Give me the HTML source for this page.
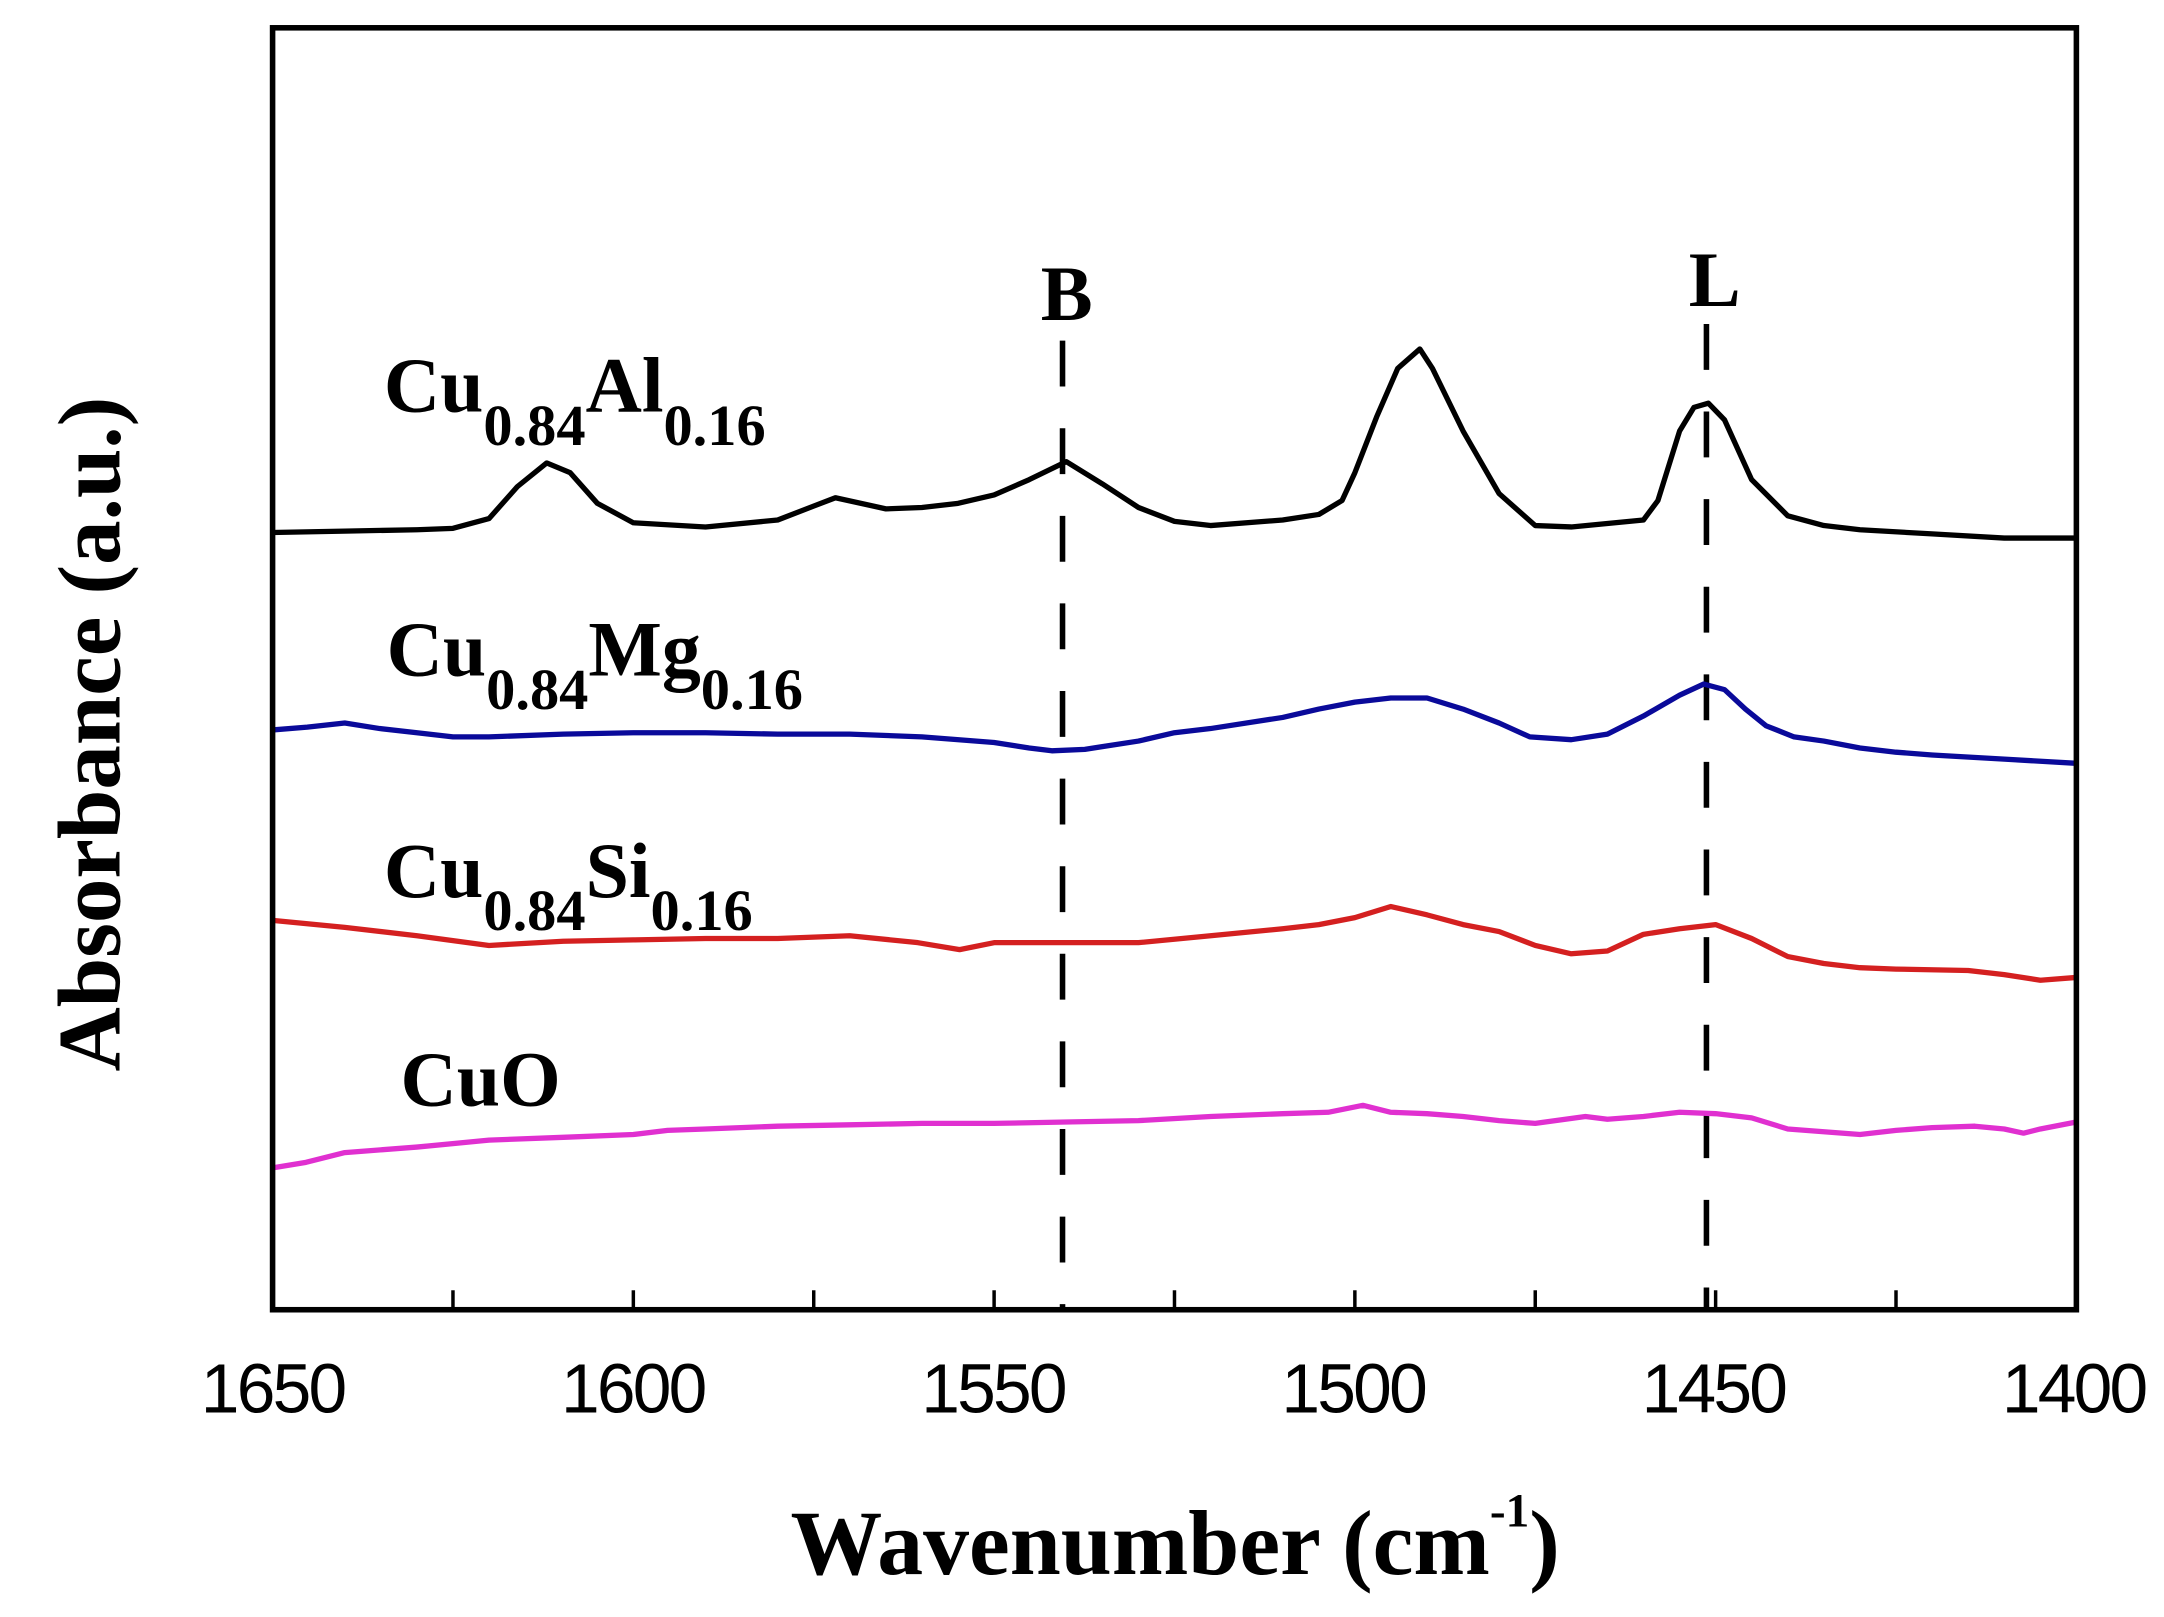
<!DOCTYPE html>
<html><head><meta charset="utf-8"><style>html,body{margin:0;padding:0;background:#fff}svg{display:block}</style></head>
<body>
<svg width="2164" height="1617" viewBox="0 0 1556 1163" preserveAspectRatio="none" xmlns="http://www.w3.org/2000/svg">
<rect x="0" y="0" width="1556" height="1163" fill="#fff"/>
<g stroke="#000" stroke-width="2.5">
<line x1="325.7" y1="942" x2="325.7" y2="928"/><line x1="455.4" y1="942" x2="455.4" y2="928"/><line x1="585.1" y1="942" x2="585.1" y2="928"/><line x1="714.8" y1="942" x2="714.8" y2="928"/><line x1="844.5" y1="942" x2="844.5" y2="928"/><line x1="974.2" y1="942" x2="974.2" y2="928"/><line x1="1103.9" y1="942" x2="1103.9" y2="928"/><line x1="1233.6" y1="942" x2="1233.6" y2="928"/><line x1="1363.3" y1="942" x2="1363.3" y2="928"/>
</g>
<g stroke="#000" stroke-width="4" stroke-dasharray="33 30" fill="none">
<line x1="764" y1="245" x2="764" y2="940"/>
<line x1="1227" y1="233" x2="1227" y2="940"/>
</g>
<g fill="none" stroke-width="3.8" stroke-linejoin="round">
<polyline stroke="#000" points="196,383 247.9,382 299.8,381 325.7,380 351.6,373 372,350 393.1,333 410,340 429.5,362 455.4,376 507.3,379 559.2,374 585.1,364 600.7,358 637,366 662.9,365 688.9,362 714.8,356 740,345 766.7,332 792.6,348 818.6,365 844.5,375 870.4,378 922.3,374 948.3,370 965,360 974.2,340 989.8,300 1005,265 1020.9,251 1030,265 1052,310 1077.9,355 1103.9,378 1129.8,379 1181.7,374 1192.1,360 1207.7,310 1218,293 1228.4,290 1240,302 1259.5,345 1285.5,371 1311.4,378 1337.4,381 1389.2,384 1441.1,387 1493,387"/>
<polyline stroke="#0a0a9a" points="196,525 221,523 247.9,520 273,524 299.8,527 325.7,530 351.6,530 405,528 455.4,527 507.3,527 559.2,528 611,528 662.9,530 714.8,534 740,538 756.3,540 780,539 792.6,537 818.6,533 844.5,527 870.4,524 922.3,516 948.3,510 974.2,505 1000,502 1026.1,502 1052,510 1077.9,520 1100,530 1129.8,532 1155.8,528 1181.7,515 1207.7,500 1225,492 1240,496 1255,510 1269.9,522 1290,530 1311.4,533 1337.4,538 1363.3,541 1389.2,543 1441.1,546 1493,549"/>
<polyline stroke="#d42020" points="196,662 247.9,667 299.8,673 351.6,680 405,677 455.4,676 507.3,675 559.2,675 611,673 660,678 690,683 714.8,678 766.7,678 818.6,678 870.4,673 922.3,668 948.3,665 974.2,660 1000.1,652 1026.1,658 1052,665 1077.9,670 1103.9,680 1129.8,686 1155.8,684 1181.7,672 1207.7,668 1233.6,665 1259.5,675 1285.5,688 1311.4,693 1337.4,696 1363.3,697 1415.2,698 1441.1,701 1467.1,705 1493,703"/>
<polyline stroke="#e030d0" points="196,840 220,836 247.9,829 299.8,825 351.6,820 405,818 455.4,816 480,813 507.3,812 559.2,810 611,809 662.9,808 714.8,808 766.7,807 818.6,806 870.4,803 922.3,801 955,800 980,795 1000,800 1026.1,801 1052,803 1077.9,806 1103.9,808 1140,803 1155.8,805 1181.7,803 1207.7,800 1233.6,801 1259.5,804 1285.5,812 1311.4,814 1337.4,816 1363.3,813 1389.2,811 1420,810 1441.1,812 1455,815 1467.1,812 1493,807"/>
</g>
<rect x="196" y="20" width="1297" height="922" fill="none" stroke="#000" stroke-width="4"/>
<g font-family="Liberation Sans, sans-serif" font-size="50" text-anchor="middle" fill="#000" letter-spacing="-2">
<text x="196" y="1016">1650</text><text x="455" y="1016">1600</text><text x="714" y="1016">1550</text><text x="973" y="1016">1500</text><text x="1232" y="1016">1450</text><text x="1491" y="1016">1400</text>
</g>
<g font-family="Liberation Serif, serif" font-weight="bold" fill="#000">
<text x="845" y="1132" font-size="66" text-anchor="middle">Wavenumber (cm<tspan font-size="34" dy="-34">-1</tspan><tspan dy="34">)</tspan></text>
<text transform="translate(86,528) rotate(-90)" font-size="64" text-anchor="middle">Absorbance (a.u.)</text>
<text x="767" y="230" font-size="56" text-anchor="middle">B</text>
<text x="1233" y="220" font-size="56" text-anchor="middle">L</text>
<text x="276" y="296" font-size="56">Cu<tspan font-size="42" dy="24">0.84</tspan><tspan dy="-24">Al</tspan><tspan font-size="42" dy="24">0.16</tspan></text>
<text x="278" y="486" font-size="56">Cu<tspan font-size="42" dy="24">0.84</tspan><tspan dy="-24">Mg</tspan><tspan font-size="42" dy="24">0.16</tspan></text>
<text x="276" y="645" font-size="56">Cu<tspan font-size="42" dy="24">0.84</tspan><tspan dy="-24">Si</tspan><tspan font-size="42" dy="24">0.16</tspan></text>
<text x="288" y="795" font-size="56">CuO</text>
</g>
</svg>
</body></html>
